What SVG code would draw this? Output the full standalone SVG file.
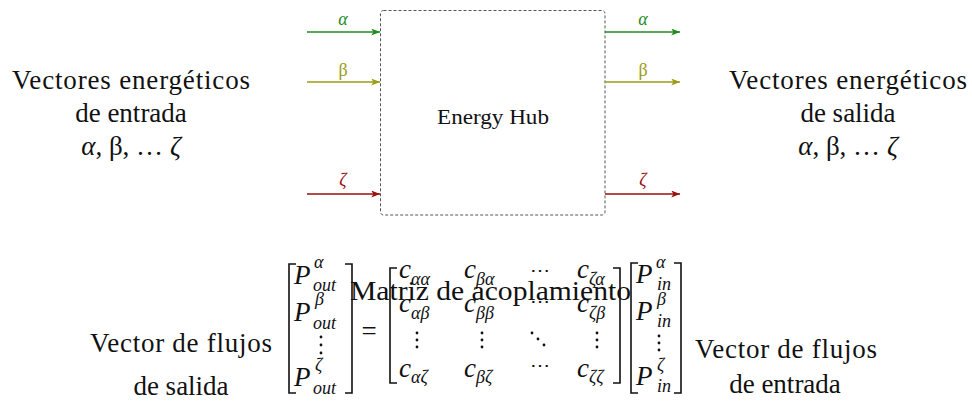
<svg xmlns="http://www.w3.org/2000/svg" width="972" height="408" viewBox="0 0 972 408">
<defs>
<style>
.lb{font-family:"Liberation Serif","DejaVu Serif",serif;font-size:27px;fill:#111;text-anchor:middle}
.hub{font-family:"Liberation Serif","DejaVu Serif",serif;font-size:22px;fill:#111;text-anchor:middle}
.mt{font-family:"Liberation Serif","DejaVu Serif",serif;font-size:27px;fill:#111}
.mp{font-family:"Liberation Serif","DejaVu Serif",serif;font-style:italic;font-size:27px;fill:#111}
.ms{font-family:"Liberation Serif","DejaVu Serif",serif;font-style:italic;font-size:18px;fill:#111}
.gl{font-family:"Liberation Serif","DejaVu Serif",serif;font-size:18px;text-anchor:middle}
.cd{font-family:"Liberation Serif","DejaVu Serif",serif;font-size:20px;fill:#111;text-anchor:middle}
.br{fill:none;stroke:#111;stroke-width:1.6}
.ga{stroke:#1e8c1e;fill:none;stroke-width:1.3}
.gb{stroke:#9c9c14;fill:none;stroke-width:1.3}
.gz{stroke:#9a0f0f;fill:none;stroke-width:1.3}
.dot{fill:#111}
</style>
<marker id="aa" viewBox="0 0 10 8" refX="10" refY="4" markerWidth="9" markerHeight="7" markerUnits="userSpaceOnUse" orient="auto"><path d="M0,0 L10,4 L0,8 L2.5,4 Z" fill="#1e8c1e"/></marker>
<marker id="ab" viewBox="0 0 10 8" refX="10" refY="4" markerWidth="9" markerHeight="7" markerUnits="userSpaceOnUse" orient="auto"><path d="M0,0 L10,4 L0,8 L2.5,4 Z" fill="#9c9c14"/></marker>
<marker id="az" viewBox="0 0 10 8" refX="10" refY="4" markerWidth="9" markerHeight="7" markerUnits="userSpaceOnUse" orient="auto"><path d="M0,0 L10,4 L0,8 L2.5,4 Z" fill="#9a0f0f"/></marker>
</defs>
<rect width="972" height="408" fill="#fff"/>

<g id="hub">
<rect x="380.5" y="10.5" width="224.5" height="204.5" rx="3" fill="none" stroke="#555" stroke-width="1" stroke-dasharray="3,2"/>
<text class="hub" x="493" y="124" textLength="112" lengthAdjust="spacingAndGlyphs">Energy Hub</text>
</g>

<g id="connectors">
<line class="ga" x1="307" y1="32" x2="380" y2="32" marker-end="url(#aa)"/>
<line class="gb" x1="307" y1="82" x2="380" y2="82" marker-end="url(#ab)"/>
<line class="gz" x1="307" y1="194" x2="380" y2="194" marker-end="url(#az)"/>
<line class="ga" x1="605" y1="32" x2="680" y2="32" marker-end="url(#aa)"/>
<line class="gb" x1="605" y1="82" x2="680" y2="82" marker-end="url(#ab)"/>
<line class="gz" x1="605" y1="194" x2="680" y2="194" marker-end="url(#az)"/>
</g>

<g id="labels-in">
<text class="gl" x="343" y="25" font-style="italic" fill="#1e8c1e">α</text>
<text class="gl" x="343" y="76" fill="#9c9c14">β</text>
<text class="gl" x="343" y="186" font-style="italic" fill="#9a0f0f">ζ</text>
</g>
<g id="labels-out">
<text class="gl" x="643" y="25" font-style="italic" fill="#1e8c1e">α</text>
<text class="gl" x="643" y="76" fill="#9c9c14">β</text>
<text class="gl" x="643" y="186" font-style="italic" fill="#9a0f0f">ζ</text>
</g>

<g id="input-vectors">
<text class="lb" x="131" y="89" textLength="238">Vectores energéticos</text>
<text class="lb" x="131" y="122">de entrada</text>
<text class="lb" x="131" y="155"><tspan font-style="italic">α</tspan>, β, … <tspan font-style="italic">ζ</tspan></text>
</g>
<g id="output-vectors">
<text class="lb" x="848" y="89" textLength="238">Vectores energéticos</text>
<text class="lb" x="848" y="122">de salida</text>
<text class="lb" x="848" y="155"><tspan font-style="italic">α</tspan>, β, … <tspan font-style="italic">ζ</tspan></text>
</g>

<g id="output-flow-vector">
<text class="lb" x="181" y="352" textLength="182">Vector de flujos</text>
<text class="lb" x="181" y="395">de salida</text>
<path class="br" d="M296,264 L289,264 L289,393 L296,393"/>
<text class="mp" x="294" y="284">P</text><text class="ms" x="314" y="268">α</text><text class="ms" x="313" y="291">out</text>
<text class="mp" x="294" y="321">P</text><text class="ms" x="315" y="305">β</text><text class="ms" x="313" y="329">out</text>
<circle class="dot" cx="321" cy="337" r="1.4"/><circle class="dot" cx="321" cy="345" r="1.4"/><circle class="dot" cx="321" cy="353" r="1.4"/>
<text class="mp" x="294" y="386">P</text><text class="ms" x="315" y="371">ζ</text><text class="ms" x="313" y="394">out</text>
<path class="br" d="M345,264 L352,264 L352,393 L345,393"/>
</g>

<g id="equals">
<text class="mt" x="369" y="340" font-size="32" text-anchor="middle">=</text>
</g>

<g id="coupling-matrix">
<path class="br" d="M397,268 L390,268 L390,383 L397,383"/>
<text class="mp" x="399" y="278">c</text><text class="ms" x="411" y="285">αα</text>
<text class="mp" x="464" y="278">c</text><text class="ms" x="476" y="285">βα</text>
<text class="cd" x="540" y="277">⋯</text>
<text class="mp" x="577" y="278">c</text><text class="ms" x="589" y="285">ζα</text>

<text class="mp" x="399" y="312">c</text><text class="ms" x="411" y="319">αβ</text>
<text class="mp" x="464" y="312">c</text><text class="ms" x="476" y="319">ββ</text>
<text class="cd" x="540" y="308">⋯</text>
<text class="mp" x="577" y="312">c</text><text class="ms" x="589" y="319">ζβ</text>

<circle class="dot" cx="417" cy="333" r="1.4"/><circle class="dot" cx="417" cy="340" r="1.4"/><circle class="dot" cx="417" cy="347" r="1.4"/>
<circle class="dot" cx="482" cy="333" r="1.4"/><circle class="dot" cx="482" cy="340" r="1.4"/><circle class="dot" cx="482" cy="347" r="1.4"/>
<circle class="dot" cx="532" cy="333" r="1.4"/><circle class="dot" cx="538" cy="339" r="1.4"/><circle class="dot" cx="544" cy="345" r="1.4"/>
<circle class="dot" cx="597" cy="333" r="1.4"/><circle class="dot" cx="597" cy="340" r="1.4"/><circle class="dot" cx="597" cy="347" r="1.4"/>

<text class="mp" x="399" y="377">c</text><text class="ms" x="411" y="383">αζ</text>
<text class="mp" x="464" y="377">c</text><text class="ms" x="476" y="383">βζ</text>
<text class="cd" x="540" y="372">⋯</text>
<text class="mp" x="577" y="377">c</text><text class="ms" x="589" y="383">ζζ</text>
<path class="br" d="M613,268 L620,268 L620,383 L613,383"/>
<text class="mt" x="350" y="300" textLength="281" lengthAdjust="spacingAndGlyphs">Matriz de acoplamiento</text>
</g>

<g id="input-flow-vector">
<path class="br" d="M638,263 L631,263 L631,393 L638,393"/>
<text class="mp" x="636" y="283">P</text><text class="ms" x="656" y="268">α</text><text class="ms" x="657" y="290">in</text>
<text class="mp" x="636" y="320">P</text><text class="ms" x="657" y="305">β</text><text class="ms" x="657" y="327">in</text>
<circle class="dot" cx="659" cy="336" r="1.4"/><circle class="dot" cx="659" cy="343" r="1.4"/><circle class="dot" cx="659" cy="350" r="1.4"/>
<text class="mp" x="636" y="385">P</text><text class="ms" x="657" y="371">ζ</text><text class="ms" x="657" y="392">in</text>
<path class="br" d="M674,263 L681,263 L681,393 L674,393"/>
<text class="lb" x="786" y="358" textLength="182">Vector de flujos</text>
<text class="lb" x="785" y="393">de entrada</text>
</g>
</svg>
